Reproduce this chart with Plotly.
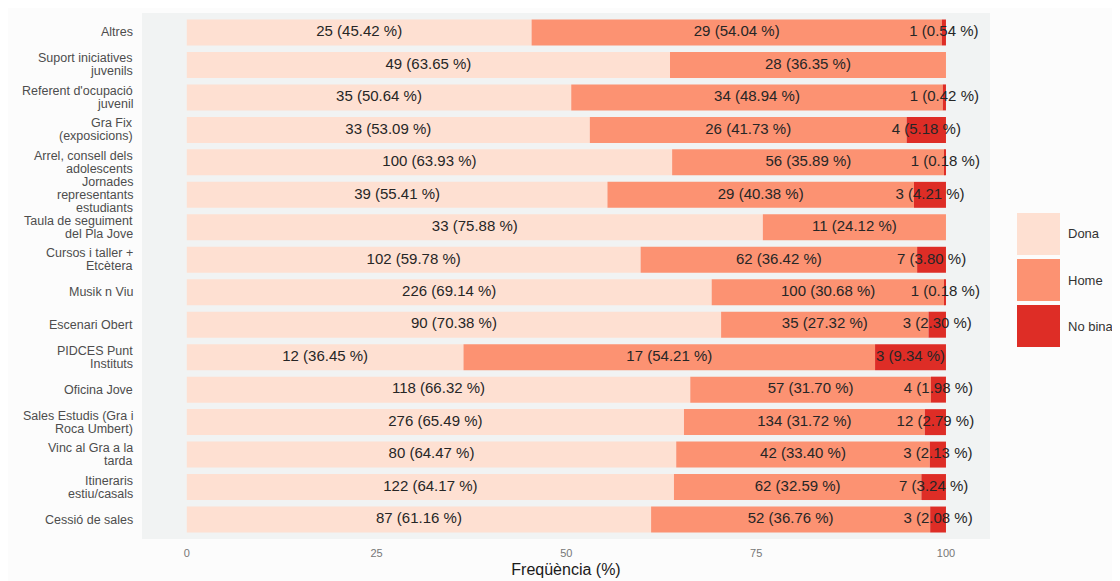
import plotly.graph_objects as go

categories = [
    "Altres",
    "Suport iniciatives<br>juvenils",
    "Referent d'ocupació<br>juvenil",
    "Gra Fix<br>(exposicions)",
    "Arrel, consell dels<br>adolescents",
    "Jornades<br>representants<br>estudiants",
    "Taula de seguiment<br>del Pla Jove",
    "Cursos i taller +<br>Etcètera",
    "Musik n Viu",
    "Escenari Obert",
    "PIDCES Punt<br>Instituts",
    "Oficina Jove",
    "Sales Estudis (Gra i<br>Roca Umbert)",
    "Vinc al Gra a la<br>tarda",
    "Itineraris<br>estiu/casals",
    "Cessió de sales",
]

dona_n = [25, 49, 35, 33, 100, 39, 33, 102, 226, 90, 12, 118, 276, 80, 122, 87]
dona_pct = [45.42, 63.65, 50.64, 53.09, 63.93, 55.41, 75.88, 59.78, 69.14, 70.38, 36.45, 66.32, 65.49, 64.47, 64.17, 61.16]
home_n = [29, 28, 34, 26, 56, 29, 11, 62, 100, 35, 17, 57, 134, 42, 62, 52]
home_pct = [54.04, 36.35, 48.94, 41.73, 35.89, 40.38, 24.12, 36.42, 30.68, 27.32, 54.21, 31.70, 31.72, 33.40, 32.59, 36.76]
nb_n = [1, None, 1, 4, 1, 3, None, 7, 1, 3, 3, 4, 12, 3, 7, 3]
nb_pct = [0.54, None, 0.42, 5.18, 0.18, 4.21, None, 3.80, 0.18, 2.30, 9.34, 1.98, 2.79, 2.13, 3.24, 2.08]

groups = ["Dona", "Home", "No binari"]
colors = ["#FEE0D2", "#FC9272", "#DE2D26"]
series_n = [dona_n, home_n, nb_n]
series_pct = [dona_pct, home_pct, nb_pct]

FONT = "Liberation Sans, Arial"
# page body has an 8px margin, so figure is shrunk by 8px to fit the window
W, H = 1112, 573
L, R, T, B = 134, 130, 5, 42
PW, PH = W - L - R, H - T - B

fig = go.Figure()

base = [0.0] * len(categories)
for name, col, ns, ps in zip(groups, colors, series_n, series_pct):
    vals = [p if p is not None else 0 for p in ps]
    fig.add_trace(go.Bar(
        y=categories, x=vals, base=base[:], orientation="h", name=name,
        marker=dict(color=col, line=dict(width=0)), width=0.8,
        showlegend=False, hoverinfo="skip",
    ))
    mids, labs, ys = [], [], []
    for i, (n, p) in enumerate(zip(ns, ps)):
        if n is None:
            continue
        mids.append(base[i] + p / 2)
        labs.append(f"{n} ({p:.2f} %)")
        ys.append(categories[i])
    fig.add_trace(go.Scatter(
        x=mids, y=ys, mode="text", text=labs, textposition="middle center",
        textfont=dict(size=15, color="#262626", family=FONT),
        showlegend=False, hoverinfo="skip", cliponaxis=False,
    ))
    base = [b + v for b, v in zip(base, vals)]

# y labels: one annotation per line for tight line spacing
for cat in categories:
    lines = cat.split("<br>")
    n = len(lines)
    for k, line in enumerate(lines):
        fig.add_annotation(
            xref="paper", yref="y", x=-7 / PW, y=cat, text=line, showarrow=False,
            xanchor="right", yanchor="middle", yshift=((n - 1) / 2 - k) * 13,
            font=dict(size=12.5, color="#4D4D4D", family=FONT),
        )

# legend drawn by hand (big square keys), positions in page pixels
key_top = [213, 259, 305]
for name, col, top in zip(groups, colors, key_top):
    x0 = (1017 - 8 - L) / PW
    x1 = (1060 - 8 - L) / PW
    ytop = 1 - (top - 8 - T) / PH
    fig.add_shape(type="rect", xref="paper", yref="paper",
                  x0=x0, x1=x1, y0=ytop - 42 / PH, y1=ytop,
                  fillcolor=col, line=dict(width=0))
    fig.add_annotation(xref="paper", yref="paper", x=(1066 - 8 - L) / PW,
                       y=ytop - 21 / PH, text=name, showarrow=False,
                       xanchor="left", yanchor="middle",
                       font=dict(size=13, color="#333333", family=FONT))

fig.update_layout(
    width=W, height=H,
    margin=dict(l=L, r=R, t=T, b=B),
    barmode="overlay",
    paper_bgcolor="#FCFCFC",
    plot_bgcolor="#F1F3F3",
    font=dict(family=FONT, color="#4D4D4D", size=12),
    showlegend=False,
)
fig.update_xaxes(
    range=[-5.9, 105.8], tickvals=[0, 25, 50, 75, 100], showgrid=False, zeroline=False,
    ticks="", tickfont=dict(size=11, color="#777777"), ticklabelstandoff=6,
    title=dict(text="Freqüència (%)", font=dict(size=16, color="#1A1A1A"), standoff=5),
)
fig.update_yaxes(
    categoryorder="array", categoryarray=categories, range=[15.6, -0.6],
    showgrid=False, zeroline=False, ticks="", showticklabels=False,
)

fig.write_html("out.html")
